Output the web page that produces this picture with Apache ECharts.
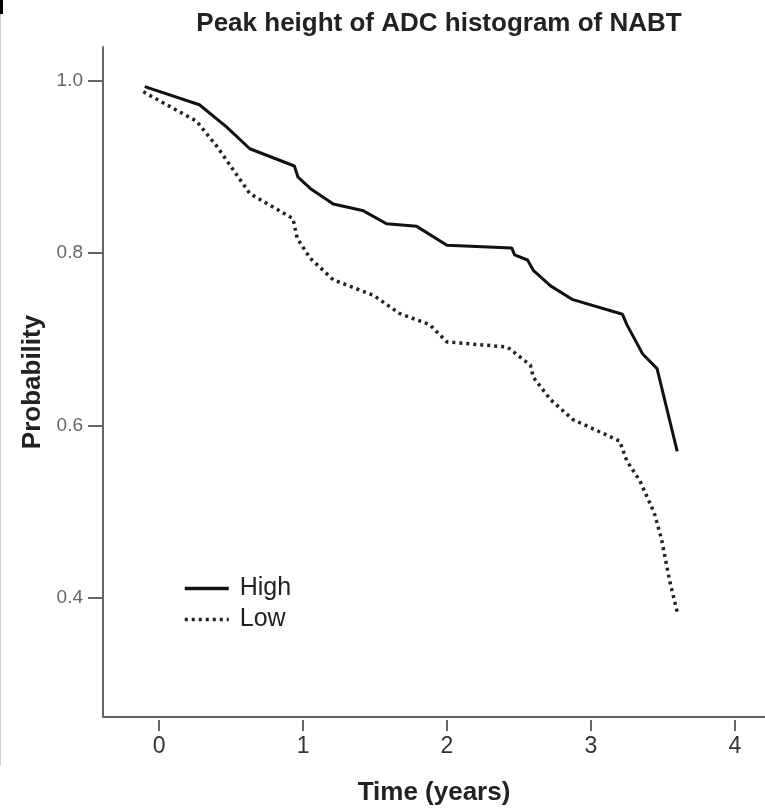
<!DOCTYPE html>
<html>
<head>
<meta charset="utf-8">
<script src="https://cdn.jsdelivr.net/npm/echarts@6/dist/echarts.min.js"></script>
<style>html,body{margin:0;padding:0;background:#fff}#c{width:765px;height:811px}</style>
</head>
<body>
<div id="c"></div>
<script>
const titleText = 'Peak height of ADC histogram of NABT';
const xTicks = [0, 1, 2, 3, 4];
const yTicks = [0.4, 0.6, 0.8, 1.0];
const seriesNames = ['High', 'Low'];
const highT = [-0.1, 0.28, 0.47, 0.63, 0.94, 0.965, 1.05, 1.21, 1.42, 1.58, 1.79, 2.0, 2.45, 2.47, 2.56, 2.6, 2.72, 2.875, 3.22, 3.25, 3.36, 3.46, 3.6];
const highP = [0.993, 0.972, 0.946, 0.921, 0.901, 0.888, 0.875, 0.857, 0.849, 0.834, 0.831, 0.809, 0.806, 0.798, 0.792, 0.780, 0.762, 0.746, 0.729, 0.717, 0.683, 0.666, 0.570];
const lowT = [-0.11, 0.26, 0.40, 0.63, 0.93, 0.96, 1.05, 1.21, 1.49, 1.67, 1.88, 2.0, 2.42, 2.58, 2.60, 2.72, 2.875, 3.2, 3.25, 3.34, 3.44, 3.49, 3.55, 3.60];
const lowP = [0.987, 0.953, 0.924, 0.869, 0.840, 0.817, 0.794, 0.769, 0.751, 0.730, 0.717, 0.697, 0.691, 0.670, 0.656, 0.630, 0.607, 0.582, 0.559, 0.536, 0.499, 0.469, 0.418, 0.384];

const zip = (a, b) => a.map((v, i) => [v, b[i]]);
const font = 'Liberation Sans, Arial, sans-serif';
const chart = echarts.init(document.getElementById('c'), null, {renderer: 'canvas'});
const xMin = -0.39, xMax = 4.21;
chart.setOption({
  animation: false,
  backgroundColor: '#fff',
  title: {
    text: titleText, left: 434, top: 6, textAlign: 'center',
    textStyle: {fontFamily: font, fontSize: 26, fontWeight: 'bold', color: '#222'}
  },
  legend: {
    orient: 'vertical', left: 178, top: 571, itemWidth: 44, itemHeight: 14, itemGap: 6,
    data: seriesNames,
    itemStyle: {opacity: 0},
    lineStyle: {width: 3.5},
    textStyle: {fontFamily: font, fontSize: 25, color: '#222', padding: [0, 0, 0, 6]}
  },
  grid: {left: 103, width: 662, top: 47, height: 676, containLabel: false},
  xAxis: [{
    type: 'value', min: xMin, max: xMax,
    axisLine: {show: true, onZero: false, lineStyle: {color: '#666', width: 2}},
    axisTick: {show: false}, axisLabel: {show: false}, splitLine: {show: false}
  }, {
    type: 'value', min: xMin, max: xMax, position: 'bottom', offset: 3,
    name: 'Time (years)', nameLocation: 'middle', nameGap: 60,
    nameTextStyle: {fontFamily: font, fontSize: 26, fontWeight: 'bold', color: '#222'},
    axisLine: {show: false, onZero: false},
    axisTick: {show: true, customValues: xTicks, length: 11, lineStyle: {color: '#666', width: 2}},
    axisLabel: {customValues: xTicks, fontFamily: font, fontSize: 23, color: '#333', margin: 15},
    splitLine: {show: false}
  }],
  yAxis: {
    type: 'value', min: 0.262, max: 1.039,
    name: 'Probability', nameLocation: 'middle', nameGap: 57, nameRotate: 90,
    nameTextStyle: {fontFamily: font, fontSize: 26, fontWeight: 'bold', color: '#222'},
    axisLine: {show: true, onZero: false, lineStyle: {color: '#666', width: 2}},
    axisTick: {show: true, customValues: yTicks, length: 15, lineStyle: {color: '#666', width: 2}},
    axisLabel: {customValues: yTicks, formatter: v => v.toFixed(1), fontFamily: font, fontSize: 19, color: '#666', margin: 20},
    splitLine: {show: false}
  },
  graphic: [
    {type: 'line', shape: {x1: 0.5, y1: 0, x2: 0.5, y2: 766}, style: {stroke: '#ccc', lineWidth: 1}},
    {type: 'rect', shape: {x: 0, y: 0, width: 3, height: 14}, style: {fill: '#000'}}
  ],
  series: [{
    name: seriesNames[0], type: 'line', xAxisIndex: 0, symbol: 'none',
    data: zip(highT, highP),
    lineStyle: {color: '#111', width: 3, type: 'solid'}, itemStyle: {color: '#111'}
  }, {
    name: seriesNames[1], type: 'line', xAxisIndex: 0, symbol: 'none',
    data: zip(lowT, lowP),
    lineStyle: {color: '#222', width: 3.5, type: [3, 4], cap: 'butt'}, itemStyle: {color: '#222'}
  }]
});
</script>
</body>
</html>
